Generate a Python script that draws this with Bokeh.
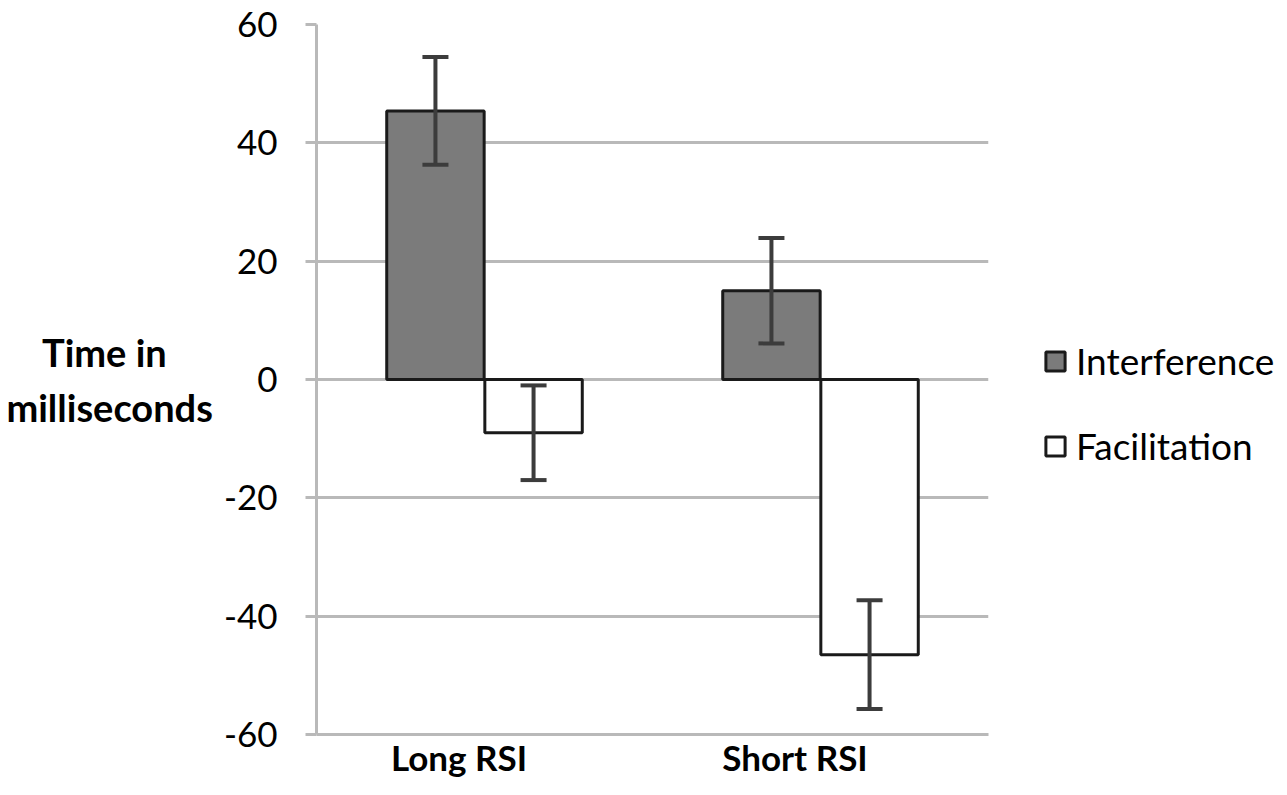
from bokeh.plotting import figure
from bokeh.models import (ColumnDataSource, FactorRange, Range1d, FixedTicker, Whisker,
                          TeeHead, Legend, LegendItem, CustomJSTickFormatter)
from bokeh.transform import dodge
from bokeh.embed import file_html
from bokeh.resources import INLINE

categories = ["Long RSI", "Short RSI"]
interference = [45.4, 15.0]
interference_err = [9.1, 8.9]
facilitation = [-9.0, -46.5]
facilitation_err = [8.0, 9.2]
y_ticks = [-60, -40, -20, 0, 20, 40, 60]
series_names = ["Interference", "Facilitation"]
y_title_lines = ["Time in", "milliseconds"]

FONT = "Lato"
GRID = "#b9b9b9"
BAR_W = 0.29
OFF = 0.146
NBSP = "\u00a0"

src = ColumnDataSource(dict(
    cat=categories,
    inter=interference,
    inter_up=[v + e for v, e in zip(interference, interference_err)],
    inter_lo=[v - e for v, e in zip(interference, interference_err)],
    fac=facilitation,
    fac_up=[v + e for v, e in zip(facilitation, facilitation_err)],
    fac_lo=[v - e for v, e in zip(facilitation, facilitation_err)],
))

p = figure(frame_width=672, frame_height=710, x_range=FactorRange(*categories, range_padding=0),
           y_range=Range1d(-60, 60), output_backend="svg", toolbar_location=None,
           min_border_left=316, min_border_right=299, min_border_top=24, min_border_bottom=61)
p.outline_line_color = None
p.background_fill_color = "white"
p.border_fill_color = "white"

r1 = p.vbar(x=dodge("cat", -OFF, range=p.x_range), top="inter", bottom=0, width=BAR_W,
            source=src, fill_color="#7b7b7b", line_color="#1a1a1a", line_width=3)
r2 = p.vbar(x=dodge("cat", OFF, range=p.x_range), top="fac", bottom=0, width=BAR_W,
            source=src, fill_color="white", line_color="#1a1a1a", line_width=3)

for off, up, lo in [(-OFF, "inter_up", "inter_lo"), (OFF, "fac_up", "fac_lo")]:
    w = Whisker(source=src, base=dodge("cat", off, range=p.x_range), upper=up, lower=lo,
                line_color="#3c3c3c", line_width=4, level="overlay",
                upper_head=TeeHead(size=26, line_color="#3c3c3c", line_width=4),
                lower_head=TeeHead(size=26, line_color="#3c3c3c", line_width=4))
    p.add_layout(w)

# y axis
yax = p.yaxis[0]
yax.ticker = FixedTicker(ticks=y_ticks)
yax.major_label_overrides = {t: str(t) for t in y_ticks}
yax.major_label_text_font = FONT
yax.major_label_text_font_size = "35px"
yax.major_label_text_color = "black"
yax.major_label_standoff = 28
yax.axis_line_color = GRID
yax.axis_line_width = 3
yax.major_tick_line_color = GRID
yax.major_tick_line_width = 3
yax.major_tick_out = 11
yax.major_tick_in = 0
yax.minor_tick_line_color = None
# first line padded so the two lines look centred on each other
yax.axis_label = y_title_lines[0] + NBSP * 5 + "\n" + y_title_lines[1]
yax.axis_label_text_font = FONT
yax.axis_label_text_font_style = "bold"
yax.axis_label_text_font_size = "38px"
yax.axis_label_text_color = "black"
yax.axis_label_standoff = 8
if "axis_label_orientation" in yax.properties():
    yax.axis_label_orientation = "horizontal"
yax.axis_label_text_line_height = 1.21

# x axis (labels sit slightly left of the category centre, as in the original)
xax = p.xaxis[0]
xax.formatter = CustomJSTickFormatter(code="return tick + '\\u00a0'.repeat(6);")
xax.major_label_text_font = FONT
xax.major_label_text_font_style = "bold"
xax.major_label_text_font_size = "35px"
xax.major_label_text_color = "black"
xax.major_label_standoff = -5
xax.axis_line_color = GRID
xax.axis_line_width = 3
xax.major_tick_line_color = None
xax.minor_tick_line_color = None

p.xgrid.grid_line_color = None
p.ygrid.grid_line_color = GRID
p.ygrid.grid_line_width = 3

legend = Legend(items=[LegendItem(label=series_names[0], renderers=[r1]),
                       LegendItem(label=series_names[1], renderers=[r2])],
                location=(55, 266), orientation="vertical",
                label_text_font=FONT, label_text_font_size="37px", label_text_color="black",
                glyph_width=24, glyph_height=24, label_standoff=9, spacing=40,
                padding=0, margin=0, border_line_color=None, background_fill_alpha=0)
p.add_layout(legend, "right")

open("out.html", "w").write(file_html(p, INLINE))
